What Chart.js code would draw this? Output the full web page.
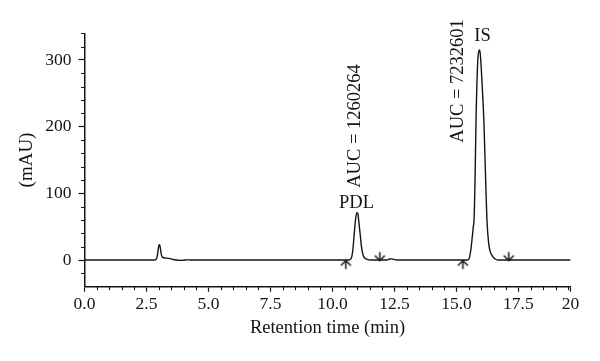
<!DOCTYPE html>
<html><head><meta charset="utf-8">
<script src="https://cdn.jsdelivr.net/npm/chart.js@4"></script>
<style>html,body{margin:0;padding:0;background:#fff}canvas{display:block}</style>
</head><body>
<canvas id="c" width="600" height="361"></canvas>
<script>
// ---- data ----
const times = [0, 2.8, 2.88, 2.93, 2.97, 3.0, 3.03, 3.06, 3.1, 3.15, 3.25, 3.4, 3.55, 3.7, 3.85, 4.0, 4.15, 4.25,
  10.65, 10.72, 10.78, 10.83, 10.88, 10.93, 10.98, 11.02, 11.07, 11.12, 11.17, 11.23, 11.3, 11.4, 11.55,
  12.2, 12.3, 12.38, 12.48, 12.6,
  15.45, 15.52, 15.58, 15.64, 15.68, 15.71, 15.75, 15.79, 15.85, 15.9, 15.94, 15.98, 16.04, 16.11, 16.17, 16.23, 16.3, 16.36, 16.45, 16.55, 16.67,
  19.6];
const absorbance = [0, 0, 0.5, 5, 15, 22, 23, 18, 8, 4, 3, 2.5, 1, 0, -0.5, -0.3, 0.3, 0,
  0, 1, 5, 18, 40, 60, 71, 70, 55, 38, 20, 8, 3, 1, 0,
  0, 1.5, 1.8, 0.8, 0,
  0, 3, 15, 35, 50, 60, 120, 210, 290, 313, 315, 300, 260, 205, 130, 60, 25, 13, 6, 2, 0,
  0];
const upMarkerTimes = [10.54, 15.26];
const upMarkerLevels = [-7.5, -7.5];
const downMarkerTimes = [11.91, 17.11];
const downMarkerLevels = [6, 6];
const xTickValues = [0, 2.5, 5, 7.5, 10, 12.5, 15, 17.5, 19.6];
const xTickLabels = ['0.0', '2.5', '5.0', '7.5', '10.0', '12.5', '15.0', '17.5', '20'];
const yTickValues = [0, 100, 200, 300];
const yTickLabels = ['0', '100', '200', '300'];
const peakLabels = ['PDL', 'IS'];
const peakLabelTimes = [10.97, 16.05];
const peakLabelLevels = [86, 335];
const aucLabels = ['AUC = 1260264', 'AUC = 7232601'];
const aucLabelTimes = [10.9, 15.05];
const aucLabelLevels = [201, 268.5];

// ---- style ----
const FONT = '"Liberation Serif", "DejaVu Serif", serif';
const INK = '#141414';

function arrowImage(up) {
  const c = document.createElement('canvas');
  c.width = 13; c.height = 13;
  const g = c.getContext('2d');
  g.strokeStyle = INK; g.lineWidth = 1.5;
  g.beginPath();
  if (up) {
    g.moveTo(1.5, 7); g.lineTo(6.5, 2); g.lineTo(11.5, 7);
    g.moveTo(6.5, 2); g.lineTo(6.5, 10.5);
  } else {
    g.moveTo(1.5, 6); g.lineTo(6.5, 11); g.lineTo(11.5, 6);
    g.moveTo(6.5, 11); g.lineTo(6.5, 2.5);
  }
  g.stroke();
  return c;
}

const minorTicks = {
  id: 'minorTicks',
  afterDraw(chart) {
    const {ctx, scales: {x, y}} = chart;
    ctx.save();
    ctx.strokeStyle = INK; ctx.lineWidth = 1.1;
    ctx.beginPath();
    for (let v = 0.5; v < 19.6; v += 0.5) {
      if (Math.abs(v / 2.5 - Math.round(v / 2.5)) < 1e-6) continue;
      const px = Math.round(x.getPixelForValue(v)) + 0.5;
      ctx.moveTo(px, y.bottom); ctx.lineTo(px, y.bottom + 3.5);
    }
    for (let v = -20; v <= 340; v += 20) {
      if (v % 100 === 0) continue;
      const py = Math.round(y.getPixelForValue(v)) + 0.5;
      ctx.moveTo(x.left, py); ctx.lineTo(x.left - 3.5, py);
    }
    ctx.stroke();
    ctx.restore();
  }
};

const peakText = {
  id: 'peakText',
  afterDatasetsDraw(chart) {
    const {ctx, scales: {x, y}} = chart;
    ctx.save();
    ctx.fillStyle = INK;
    ctx.font = '18.5px ' + FONT;
    ctx.textAlign = 'center'; ctx.textBaseline = 'middle';
    peakLabels.forEach((t, i) => {
      ctx.fillText(t, x.getPixelForValue(peakLabelTimes[i]), y.getPixelForValue(peakLabelLevels[i]));
    });
    aucLabels.forEach((t, i) => {
      ctx.save();
      ctx.translate(x.getPixelForValue(aucLabelTimes[i]), y.getPixelForValue(aucLabelLevels[i]));
      ctx.rotate(-Math.PI / 2);
      ctx.fillText(t, 0, 0);
      ctx.restore();
    });
    ctx.restore();
  }
};

new Chart(document.getElementById('c'), {
  type: 'scatter',
  data: {
    datasets: [
      {
        data: times.map((t, i) => ({x: t, y: absorbance[i]})),
        showLine: true, borderColor: INK, borderWidth: 1.4,
        pointRadius: 0, cubicInterpolationMode: 'monotone', fill: false
      },
      {
        data: upMarkerTimes.map((t, i) => ({x: t, y: upMarkerLevels[i]})),
        pointStyle: arrowImage(true), pointRadius: 6, showLine: false
      },
      {
        data: downMarkerTimes.map((t, i) => ({x: t, y: downMarkerLevels[i]})),
        pointStyle: arrowImage(false), pointRadius: 6, showLine: false
      }
    ]
  },
  options: {
    responsive: false,
    animation: false,
    events: [],
    layout: {padding: {top: 33.3, right: 29.5, left: 0, bottom: 0}},
    plugins: {legend: {display: false}, tooltip: {enabled: false}},
    scales: {
      x: {
        type: 'linear', min: 0, max: 19.6,
        afterBuildTicks(s) { s.ticks = xTickValues.map(v => ({value: v})); },
        afterFit(s) { s.height = 74.3; },
        grid: {display: true, drawOnChartArea: false, drawTicks: true, tickLength: 5, tickColor: INK, tickWidth: 1.2},
        border: {display: true, color: INK, width: 1.5},
        ticks: {
          autoSkip: false, maxRotation: 0, padding: 2, color: INK,
          font: {family: FONT, size: 17.5},
          callback: (v, i) => xTickLabels[i]
        },
        title: {display: true, text: 'Retention time (min)', color: INK, font: {family: FONT, size: 18.5}, padding: {top: 0, bottom: 22}}
      },
      y: {
        type: 'linear', min: -40, max: 340,
        afterBuildTicks(s) { s.ticks = yTickValues.map(v => ({value: v})); },
        afterFit(s) { s.width = 84.5; },
        grid: {display: true, drawOnChartArea: false, drawTicks: true, tickLength: 6, tickColor: INK, tickWidth: 1.2},
        border: {display: true, color: INK, width: 1.5},
        ticks: {
          autoSkip: false, padding: 7, color: INK,
          font: {family: FONT, size: 17.5},
          callback: (v, i) => yTickLabels[i]
        },
        title: {display: true, text: '(mAU)', color: INK, font: {family: FONT, size: 19}, padding: {top: 16, bottom: 0}}
      }
    }
  },
  plugins: [minorTicks, peakText]
});
</script>
</body></html>
